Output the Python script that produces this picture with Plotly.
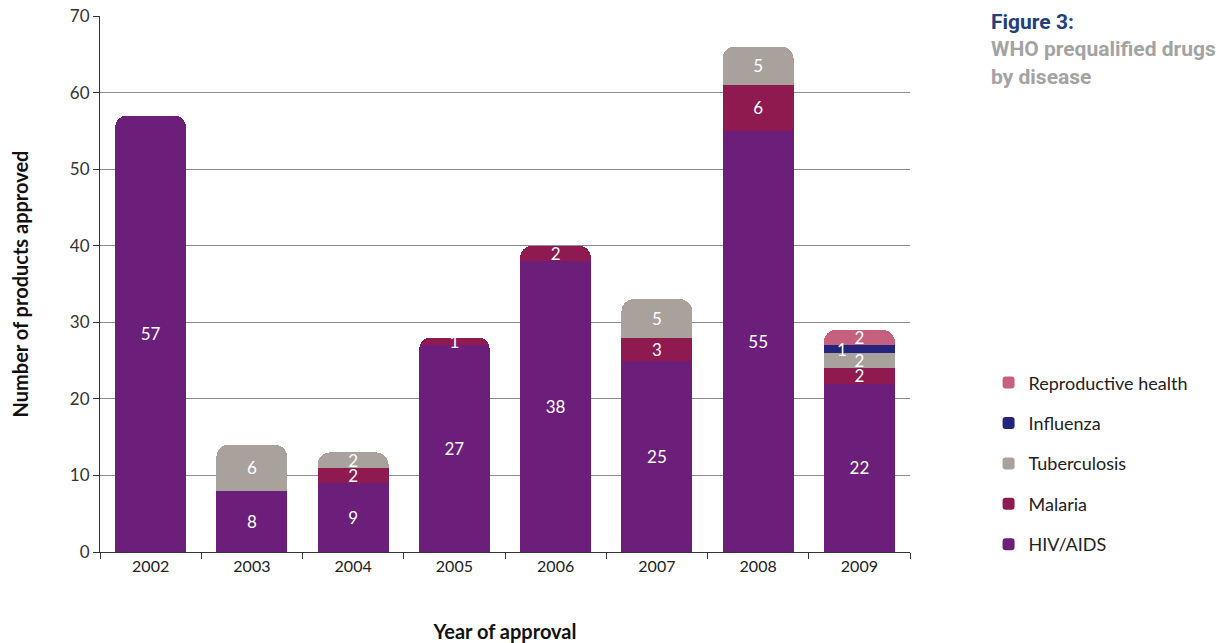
import plotly.graph_objects as go

years = ["2002", "2003", "2004", "2005", "2006", "2007", "2008", "2009"]
hiv = [57, 8, 9, 27, 38, 25, 55, 22]
malaria = [None, None, 2, 1, 2, 3, 6, 2]
tuberculosis = [None, 6, 2, None, None, 5, 5, 2]
influenza = [None, None, None, None, None, None, None, 1]
reproductive = [None, None, None, None, None, None, None, 2]

series = [
    ("HIV/AIDS", hiv, "#6B1F7B"),
    ("Malaria", malaria, "#8F1A50"),
    ("Tuberculosis", tuberculosis, "#A9A29C"),
    ("Influenza", influenza, "#24247E"),
    ("Reproductive health", reproductive, "#C6607F"),
]

label_font = dict(color="white", size=17, family="Lato, Open Sans, sans-serif")

fig = go.Figure()
for k, (name, vals, color) in enumerate(series):
    is_flu = name == "Influenza"
    fig.add_trace(go.Bar(
        x=years, y=vals, name=name, marker_color=color, marker_line_width=0,
        text=None if is_flu else ["" if v is None else str(v) for v in vals],
        textposition="none" if is_flu else "inside",
        insidetextanchor="middle", textangle=0,
        textfont=label_font,
        legendgroup=name, legendrank=len(series) - k, hoverinfo="skip",
    ))

# Influenza label: offset to the left, as in the original figure
below = [sum((s[1][i] or 0) for s in series[:3]) for i in range(len(years))]
for i, v in enumerate(influenza):
    if v:
        fig.add_annotation(
            x=i, y=below[i] + v / 2, text=str(v), showarrow=False,
            xshift=-17, font=label_font,
        )

fig.update_layout(
    width=1226, height=643,
    barmode="stack", bargap=0.3, barcornerradius=12,
    plot_bgcolor="white", paper_bgcolor="white",
    margin=dict(l=92, r=324, t=8, b=99),
    font=dict(family="Lato, Open Sans, sans-serif", color="#222222"),
    uniformtext=dict(minsize=16, mode="show"),
    legend=dict(
        x=1.097, y=0.35, xanchor="left", yanchor="top",
        traceorder="grouped", tracegroupgap=14,
        font=dict(size=18, family="Lato, Open Sans, sans-serif", color="#222222"),
        itemclick=False,
    ),
    showlegend=True,
)

fig.update_xaxes(
    type="category", automargin=False,
    showline=True, linecolor="#333333", linewidth=1,
    ticks="outside", tickson="boundaries", ticklen=6, tickcolor="#333333",
    tickfont=dict(size=16, color="#222222"), tickangle=0,
    title=dict(text="<b>Year of approval</b>", font=dict(size=20, color="#111111"), standoff=50),
)
fig.update_yaxes(
    automargin=False, ticklabeloverflow="allow",
    range=[0, 70], dtick=10,
    showline=True, linecolor="#333333", linewidth=1,
    ticks="outside", ticklen=6, tickcolor="#333333",
    showgrid=True, gridcolor="#8c8c8c", gridwidth=1,
    tickfont=dict(size=17, color="#333333"),
    zeroline=False,
    title=dict(text="<b>Number of products approved</b>", font=dict(size=20, color="#111111"), standoff=36),
)

fig.add_annotation(
    xref="paper", yref="paper", x=1.097, y=1.015, xanchor="left", yanchor="top",
    align="left", showarrow=False,
    text="<b><span style='color:#23407A'>Figure 3:</span><br>WHO prequalified drugs<br>by disease</b>",
    font=dict(size=21, family="Roboto, sans-serif", color="#A3A3A3"),
)

fig.write_html("out.html")
